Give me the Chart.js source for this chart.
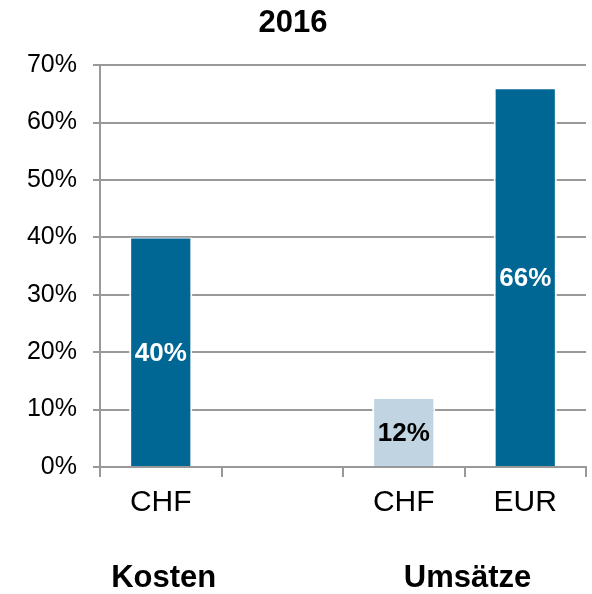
<!DOCTYPE html>
<html>
<head>
<meta charset="utf-8">
<script src="https://cdn.jsdelivr.net/npm/chart.js@4"></script>
<style>
  html,body{margin:0;padding:0;background:#fff;}
  #wrap{width:592px;height:594px;}
</style>
</head>
<body>
<div id="wrap"><canvas id="chart"></canvas></div>
<script>
// data
const labels    = ["CHF", "", "CHF", "EUR"];
const werte     = [40, null, 12, 66];
const farben    = ["#006794", "#006794", "#c1d4e2", "#006794"];
const txtFarben = ["#ffffff", "#ffffff", "#000000", "#ffffff"];
const gruppen   = ["Kosten", "Umsätze"];
const gruppeVon = [0, 2];
const gruppeBis = [0, 3];
const yTicks    = [0, 10, 20, 30, 40, 50, 60, 70];

const FONT = "'Liberation Sans', Arial, sans-serif";
const GRID = "#999999";

// Werte in den Balken + Gruppennamen unter der Achse
const beschriftung = {
  id: "beschriftung",
  afterDatasetsDraw(chart){
    const ctx = chart.ctx;
    const meta = chart.getDatasetMeta(0);
    ctx.save();
    ctx.font = "bold 26px " + FONT;
    ctx.textAlign = "center";
    ctx.textBaseline = "middle";
    meta.data.forEach((bar,i)=>{
      if(werte[i]==null) return;
      ctx.fillStyle = txtFarben[i];
      ctx.fillText(werte[i] + "%", bar.x, (bar.y + bar.base)/2 + 2);
    });
    const x = chart.scales.x;
    ctx.fillStyle = "#000";
    ctx.font = "bold 31px " + FONT;
    gruppen.forEach((g,i)=>{
      const cx = (x.getPixelForValue(gruppeVon[i]) + x.getPixelForValue(gruppeBis[i]))/2;
      ctx.fillText(g, cx + 3, 578);
    });
    ctx.restore();
  }
};

new Chart(document.getElementById("chart"), {
  type: "bar",
  data: {
    labels,
    datasets: [{
      data: werte,
      backgroundColor: farben,
      borderColor: "#ffffff",
      borderWidth: {left:2, right:2, top:1, bottom:0},
      borderSkipped: false,
      barPercentage: 0.52,
      categoryPercentage: 1
    }]
  },
  options: {
    responsive: true,
    maintainAspectRatio: false,
    animation: false,
    layout: { padding: { left:0, right:6, top:0, bottom:0 } },
    plugins: {
      legend: { display:false },
      tooltip: { enabled:false },
      title: {
        display: true,
        text: "2016",
        color: "#000",
        font: { family: FONT, size: 31, weight: "bold" },
        padding: { top: 5, bottom: 23 }
      }
    },
    scales: {
      x: {
        grid: { display:true, offset:true, drawOnChartArea:false, drawTicks:true, tickLength:10, color:GRID, lineWidth:2 },
        border: { display:true, color:GRID, width:2 },
        ticks: { color:"#000", padding:8, font:{ family:FONT, size:30 }, maxRotation:0, autoSkip:false },
        afterFit(s){ s.height = 127; }
      },
      y: {
        min: 0, max: 70,
        afterBuildTicks(s){ s.ticks = yTicks.map(v=>({value:v})); },
        grid: { color:GRID, lineWidth:2, tickLength:7 },
        border: { display:true, color:GRID, width:2 },
        ticks: { color:"#000", padding:16, font:{ family:FONT, size:25 }, callback:v=>v + "%" },
        afterFit(s){ s.width = 100; }
      }
    }
  },
  plugins: [beschriftung]
});
</script>
</body>
</html>
